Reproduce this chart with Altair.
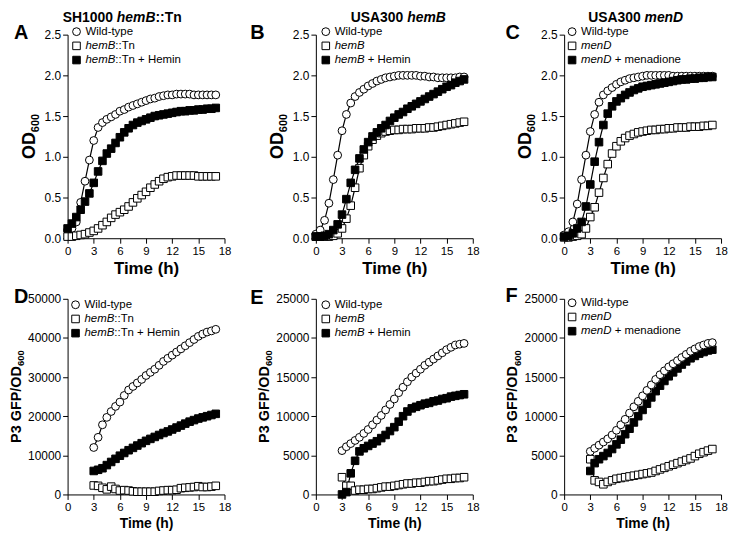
import altair as alt
import pandas as pd

# ---------------- data ----------------
TIME_OD = [0, 0.5, 1, 1.5, 2, 2.5, 3, 3.5, 4, 4.5, 5, 5.5, 6, 6.5, 7, 7.5, 8, 8.5,
           9, 9.5, 10, 10.5, 11, 11.5, 12, 12.5, 13, 13.5, 14, 14.5, 15, 15.5, 16, 16.5, 17]
TIME_GFP = [3, 3.5, 4, 4.5, 5, 5.5, 6, 6.5, 7, 7.5, 8, 8.5, 9, 9.5, 10, 10.5, 11,
            11.5, 12, 12.5, 13, 13.5, 14, 14.5, 15, 15.5, 16, 16.5, 17]

A_WT = [0.10, 0.12, 0.20, 0.44, 0.70, 0.96, 1.20, 1.36, 1.42, 1.46, 1.49, 1.52, 1.56, 1.58, 1.61, 1.63, 1.65, 1.67,
        1.69, 1.71, 1.72, 1.74, 1.75, 1.76, 1.76, 1.77, 1.77, 1.77, 1.77, 1.76, 1.76, 1.76, 1.76, 1.76, 1.76]
A_MUT = [0.02, 0.02, 0.03, 0.04, 0.05, 0.07, 0.09, 0.12, 0.16, 0.20, 0.25, 0.29, 0.32, 0.35, 0.39, 0.44, 0.49, 0.53,
         0.57, 0.62, 0.66, 0.70, 0.73, 0.75, 0.76, 0.77, 0.77, 0.77, 0.77, 0.77, 0.76, 0.76, 0.76, 0.76, 0.76]
A_COMP = [0.12, 0.18, 0.26, 0.35, 0.45, 0.55, 0.68, 0.82, 0.95, 1.04, 1.10, 1.17, 1.24, 1.30, 1.35, 1.39, 1.42, 1.44,
          1.46, 1.48, 1.50, 1.51, 1.52, 1.53, 1.54, 1.55, 1.56, 1.56, 1.57, 1.57, 1.58, 1.58, 1.59, 1.59, 1.60]

B_WT = [0.05, 0.10, 0.22, 0.43, 0.72, 1.02, 1.32, 1.52, 1.66, 1.74, 1.79, 1.83, 1.87, 1.90, 1.93, 1.95, 1.97, 1.98,
        1.99, 2.00, 2.00, 2.00, 2.00, 2.00, 1.99, 1.99, 1.98, 1.98, 1.97, 1.97, 1.97, 1.97, 1.97, 1.98, 1.98]
B_MUT = [0.02, 0.02, 0.02, 0.02, 0.03, 0.06, 0.12, 0.24, 0.40, 0.62, 0.86, 1.02, 1.13, 1.21, 1.26, 1.29, 1.31, 1.32,
         1.33, 1.33, 1.34, 1.34, 1.34, 1.35, 1.35, 1.35, 1.36, 1.36, 1.37, 1.38, 1.39, 1.40, 1.41, 1.42, 1.43]
B_COMP = [0.02, 0.02, 0.03, 0.05, 0.10, 0.17, 0.29, 0.48, 0.68, 0.84, 0.98, 1.09, 1.18, 1.25, 1.30, 1.35, 1.39, 1.44,
          1.48, 1.52, 1.55, 1.59, 1.62, 1.65, 1.68, 1.71, 1.74, 1.77, 1.80, 1.83, 1.86, 1.88, 1.91, 1.93, 1.95]

C_WT = [0.04, 0.08, 0.20, 0.42, 0.72, 1.02, 1.31, 1.52, 1.67, 1.76, 1.81, 1.85, 1.89, 1.92, 1.94, 1.96, 1.97, 1.98,
        1.99, 2.00, 2.00, 2.00, 2.00, 2.00, 2.00, 1.99, 1.99, 1.99, 1.99, 1.99, 1.99, 1.99, 1.99, 1.99, 1.99]
C_MUT = [0.01, 0.01, 0.02, 0.03, 0.05, 0.12, 0.26, 0.38, 0.56, 0.74, 0.91, 1.04, 1.13, 1.19, 1.23, 1.26, 1.28, 1.30,
         1.31, 1.32, 1.33, 1.33, 1.34, 1.34, 1.35, 1.35, 1.36, 1.36, 1.36, 1.37, 1.37, 1.37, 1.38, 1.38, 1.39]
C_COMP = [0.02, 0.03, 0.06, 0.12, 0.20, 0.39, 0.66, 0.94, 1.18, 1.39, 1.53, 1.62, 1.68, 1.72, 1.76, 1.79, 1.82, 1.84,
          1.86, 1.87, 1.88, 1.89, 1.90, 1.91, 1.92, 1.93, 1.94, 1.95, 1.95, 1.96, 1.96, 1.97, 1.97, 1.98, 1.98]

D_WT = [12000, 14600, 17800, 19700, 21200, 22500, 23600, 25300, 26700, 27600, 28500, 29400, 30400, 31200, 32000,
        33000, 34000, 34800, 35600, 36400, 37200, 38000, 38800, 39600, 40400, 41000, 41500, 41800, 42200]
D_MUT = [2300, 2200, 1700, 1300, 2000, 1400, 1000, 1100, 1000, 800, 700, 700, 700, 700, 700,
         900, 1000, 1100, 1100, 1200, 1600, 1700, 1800, 1900, 2100, 1900, 1900, 2000, 2200]
D_COMP = [6000, 6300, 6700, 7500, 8300, 9100, 9900, 10600, 11300, 11900, 12500, 13100, 13700, 14200, 14700,
          15200, 15700, 16100, 16600, 17100, 17600, 18100, 18600, 19000, 19400, 19700, 20000, 20300, 20600]

E_WT = [5600, 6100, 6500, 6900, 7300, 7800, 8300, 8900, 9500, 10100, 10800, 11500, 12200, 13000, 13700,
        14400, 15000, 15500, 16000, 16500, 16900, 17300, 17700, 18100, 18500, 18800, 19100, 19200, 19300]
E_MUT = [2200, 1100, 1100, 500, 600, 600, 700, 700, 800, 900, 1000, 1000, 1100, 1200, 1300,
         1400, 1400, 1500, 1500, 1600, 1700, 1700, 1800, 1900, 2000, 2000, 2100, 2100, 2200]
E_COMP = [0, 300, 2700, 4300, 5500, 5900, 6200, 6500, 6800, 7200, 7600, 8100, 8600, 9300, 10000,
          10600, 11000, 11200, 11400, 11600, 11700, 11900, 12000, 12200, 12300, 12500, 12600, 12700, 12800]

F_WT = [5500, 5900, 6300, 6700, 7100, 7600, 8200, 8900, 9600, 10400, 11200, 11900, 12600, 13300, 14000,
        14700, 15300, 15800, 16300, 16700, 17100, 17500, 17900, 18300, 18600, 18900, 19100, 19300, 19400]
F_MUT = [4500, 1800, 1600, 1300, 1600, 1800, 2000, 2100, 2200, 2300, 2400, 2500, 2600, 2700, 2800,
         3000, 3200, 3400, 3600, 3800, 4000, 4200, 4400, 4600, 4900, 5200, 5400, 5600, 5800]
F_COMP = [3000, 4000, 4500, 4900, 5300, 5800, 6400, 7000, 7700, 8400, 9200, 10000, 10800, 11600, 12400,
          13200, 13900, 14500, 15100, 15600, 16100, 16600, 17000, 17400, 17700, 18000, 18200, 18400, 18500]

X_TICKS = [0, 3, 6, 9, 12, 15, 18]
OD_TICKS = [0, 0.5, 1.0, 1.5, 2.0, 2.5]
GFP_TICKS_D = [0, 10000, 20000, 30000, 40000, 50000]
GFP_TICKS_EF = [0, 5000, 10000, 15000, 20000, 25000]

# ---------------- layout ----------------
W = 158
H_TOP = 205
H_BOT = 197
FONT = "Liberation Sans"

REG = {" ": 278, "+": 584, ":": 278, "-": 333, "B": 667, "D": 722, "H": 722, "T": 611, "W": 944,
       "a": 556, "d": 556, "e": 556, "h": 556, "i": 222, "l": 222, "m": 833, "n": 556, "o": 556,
       "p": 556, "t": 278, "y": 500}
BOLD = {" ": 278, ":": 333, "A": 722, "B": 722, "D": 722, "H": 722, "S": 667, "T": 611, "U": 722,
        "e": 556, "h": 611, "m": 889, "n": 611, "O": 778, "P": 667, "G": 778, "F": 611, "/": 278}


def tw(s, size, bold=False):
    table = BOLD if bold else REG
    return sum(table.get(c, 556) for c in s) * size / 1000.0


ONE = pd.DataFrame({"a": [1]})


def txt(text, x, y, size, weight="normal", style="normal", align="left", baseline="middle", angle=0):
    return alt.Chart(ONE).mark_text(
        text=text, font=FONT, fontSize=size, fontWeight=weight, fontStyle=style,
        align=align, baseline=baseline, angle=angle, color="black"
    ).encode(x=alt.value(x), y=alt.value(y))


def pieces(parts, x0, y, size, bold=False):
    """Place text pieces one after another; leading/trailing spaces become gaps."""
    out = []
    cx = x0
    for s, it in parts:
        lead = len(s) - len(s.lstrip(" "))
        cx += tw(" " * lead, size, bold)
        core = s.strip(" ")
        out.append(txt(core, cx, y, size, weight="bold" if bold else "normal",
                       style="italic" if it else "normal"))
        cx += tw(core, size, bold)
        trail = len(s) - len(s.rstrip(" "))
        cx += tw(" " * trail, size, bold)
    return out


def total_width(parts, size, bold=False):
    return sum(tw(s, size, bold) for s, _ in parts)


def sym(kind, x=None, y=None, data=None):
    fill = "black" if kind == "solid" else "white"
    shape = "circle" if kind == "circle" else "square"
    size = 62 if kind == "circle" else 58
    m = alt.Chart(data if data is not None else ONE).mark_point(
        shape=shape, filled=True, fill=fill, stroke="black", strokeWidth=1, size=size, opacity=1
    )
    if x is not None:
        m = m.encode(x=alt.value(x), y=alt.value(y))
    return m


def panel(time, series, h, ydom, yticks, yfmt, xt_size, title, letter, letter_xy,
          ytitle, ytitle_x, legend_xy, order):
    rows = []
    for k, (_, vals, _) in enumerate(series):
        for t, v in zip(time, vals):
            rows.append({"t": t, "v": v, "s": k})
    df = pd.DataFrame(rows)
    x = alt.X("t:Q", scale=alt.Scale(domain=[0, 18], nice=False, zero=False),
              axis=alt.Axis(values=X_TICKS, title="Time (h)", titleFontSize=xt_size, labelFlush=False,
                            labelOverlap=False, labelFontSize=11.5))
    y = alt.Y("v:Q", scale=alt.Scale(domain=ydom, nice=False),
              axis=alt.Axis(values=yticks, format=yfmt, title=None, labelOverlap=False))
    layers = [alt.Chart(df).mark_line(color="black", strokeWidth=1.2).encode(x=x, y=y, detail="s:N")]
    for k in order:
        layers.append(sym(series[k][2], data=df[df.s == k]).encode(x=x, y=y))

    # legend
    lx, ly = legend_xy
    for i, (parts, _, kind) in enumerate(series):
        yy = ly + i * 14.3
        layers.append(sym(kind, lx, yy))
        layers.extend(pieces(parts, lx + 9, yy, 11.5))

    # panel title (top row only)
    if title:
        tsize = 14
        start = title[1] - total_width(title[0], tsize, True) / 2
        layers.extend(pieces(title[0], start, -17, tsize, bold=True))

    # letter
    layers.append(txt(letter, letter_xy[0], letter_xy[1], 20, weight="bold"))

    # y title with subscript (rotated)
    (main, msize), (sub, ssize) = ytitle
    L = tw(main, msize, True) + tw(sub, ssize, True)
    y0 = h / 2 + L / 2
    layers.append(txt(main, ytitle_x, y0, msize, weight="bold", baseline="alphabetic", angle=270))
    layers.append(txt(sub, ytitle_x + msize * 0.22, y0 - tw(main, msize, True), ssize, weight="bold",
                      baseline="alphabetic", angle=270))

    return alt.layer(*layers).properties(width=W, height=h)


OD_T = (("OD", 18), ("600", 11))
GFP_T = (("P3 GFP/OD", 14.5), ("600", 9.5))

pA = panel(TIME_OD, [([("Wild-type", False)], A_WT, "circle"),
                     ([("hemB", True), ("::Tn", False)], A_MUT, "open"),
                     ([("hemB", True), ("::Tn + Hemin", False)], A_COMP, "solid")],
           H_TOP, [0, 2.5], OD_TICKS, ".1f", 17,
           ([("SH1000 ", False), ("hemB", True), ("::Tn", False)], 55), "A", (-54, -2),
           OD_T, -33, (9, -3), [0, 1, 2])
pB = panel(TIME_OD, [([("Wild-type", False)], B_WT, "circle"),
                     ([("hemB", True)], B_MUT, "open"),
                     ([("hemB", True), (" + Hemin", False)], B_COMP, "solid")],
           H_TOP, [0, 2.5], OD_TICKS, ".1f", 17,
           ([("USA300 ", False), ("hemB", True)], 83), "B", (-66, -2),
           OD_T, -33, (10, -3), [0, 1, 2])
pC = panel(TIME_OD, [([("Wild-type", False)], C_WT, "circle"),
                     ([("menD", True)], C_MUT, "open"),
                     ([("menD", True), (" + menadione", False)], C_COMP, "solid")],
           H_TOP, [0, 2.5], OD_TICKS, ".1f", 17,
           ([("USA300 ", False), ("menD", True)], 72), "C", (-59, -2),
           OD_T, -33, (8, -3), [0, 1, 2])
pD = panel(TIME_GFP, [([("Wild-type", False)], D_WT, "circle"),
                      ([("hemB", True), ("::Tn", False)], D_MUT, "open"),
                      ([("hemB", True), ("::Tn + Hemin", False)], D_COMP, "solid")],
           H_BOT, [0, 50000], GFP_TICKS_D, "d", 14,
           None, "D", (-54, -2), GFP_T, -47, (8, 6), [0, 1, 2])
pE = panel(TIME_GFP, [([("Wild-type", False)], E_WT, "circle"),
                      ([("hemB", True)], E_MUT, "open"),
                      ([("hemB", True), (" + Hemin", False)], E_COMP, "solid")],
           H_BOT, [0, 25000], GFP_TICKS_EF, "d", 14,
           None, "E", (-66, -1), GFP_T, -47, (10, 6), [0, 1, 2])
pF = panel(TIME_GFP, [([("Wild-type", False)], F_WT, "circle"),
                      ([("menD", True)], F_MUT, "open"),
                      ([("menD", True), (" + menadione", False)], F_COMP, "solid")],
           H_BOT, [0, 25000], GFP_TICKS_EF, "d", 14,
           None, "F", (-59, -3), GFP_T, -47, (8, 4), [1, 2, 0])

chart = alt.concat(pA, pB, pC, pD, pE, pF, columns=3,
                   spacing={"row": 61, "column": 92}).properties(
    bounds="flush", align="each", padding=0
).configure_axis(
    domainColor="black", tickColor="black", labelColor="black", titleColor="black",
    labelFont=FONT, titleFont=FONT, labelFontSize=12, tickSize=5, grid=False,
    labelPadding=2, titlePadding=4, titleFontWeight="bold", domainWidth=1, tickWidth=1
).configure_view(stroke="transparent")

chart.save("out.html", embed_options={"renderer": "svg", "actions": False})
